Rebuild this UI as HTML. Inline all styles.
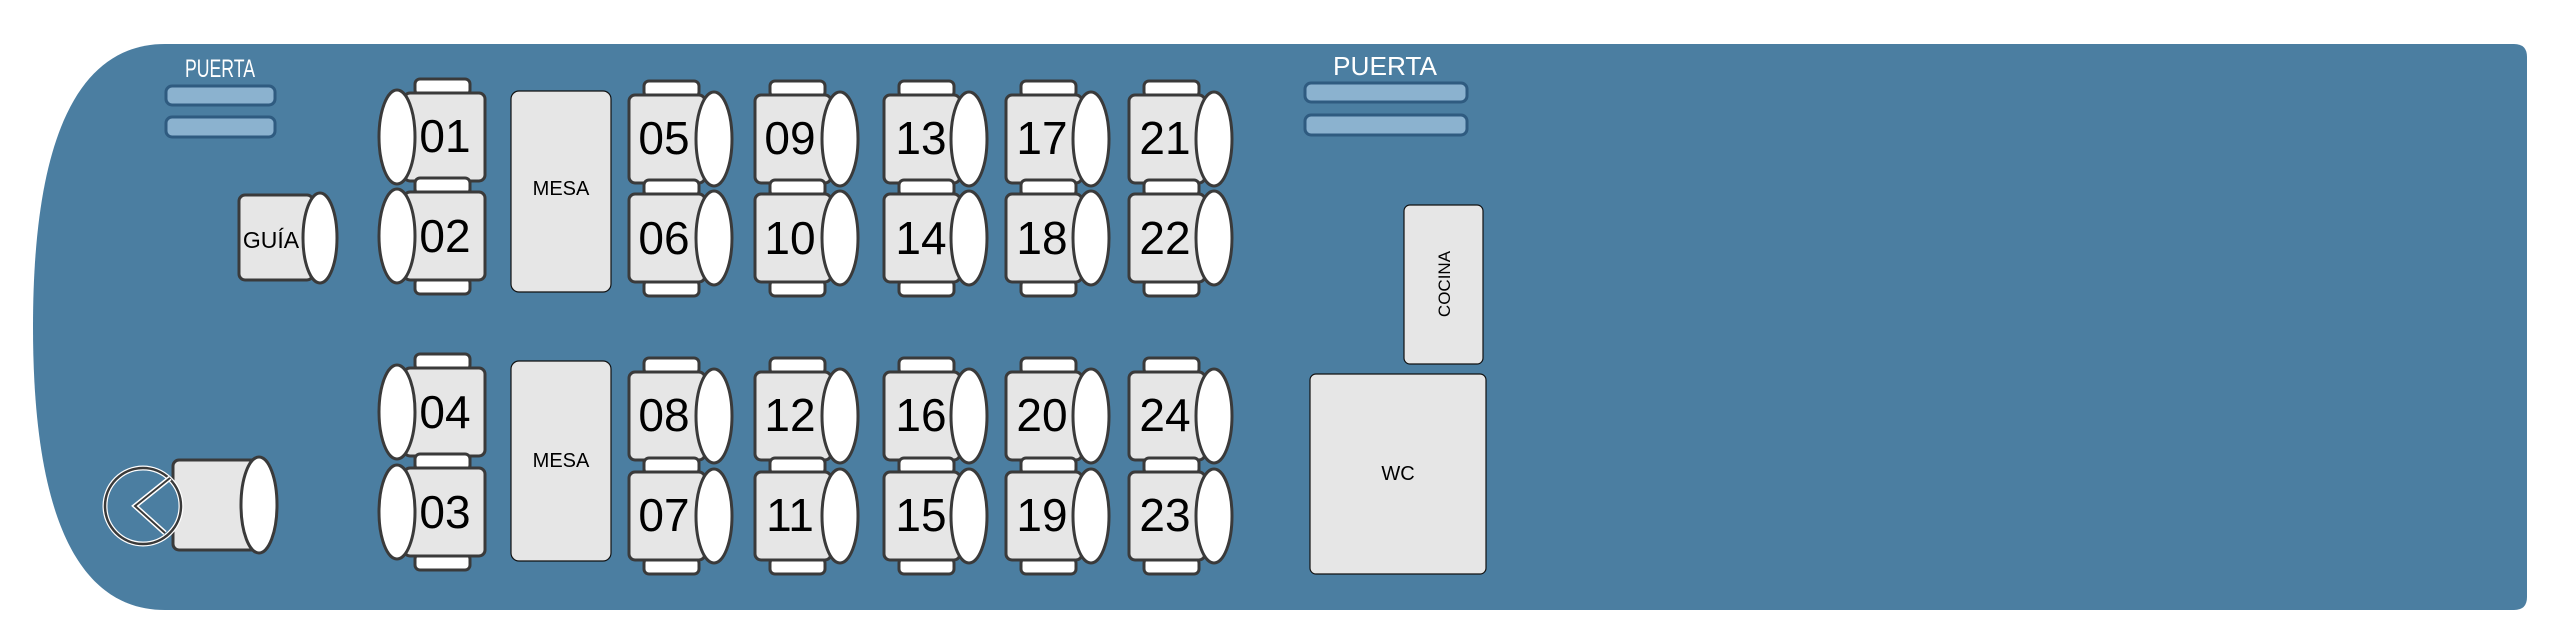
<!DOCTYPE html>
<html><head><meta charset="utf-8"><style>
html,body{margin:0;padding:0;background:#fff;}
svg{display:block;}
text{font-family:"Liberation Sans",sans-serif;}
</style></head><body>
<svg width="2560" height="641" viewBox="0 0 2560 641" xmlns="http://www.w3.org/2000/svg">
<defs>
<g id="sl">
 <rect x="11" y="-14" width="55" height="16" rx="5" fill="#fff" stroke="#3a3a3a" stroke-width="3"/>
 <rect x="11" y="86" width="55" height="16" rx="5" fill="#fff" stroke="#3a3a3a" stroke-width="3"/>
 <rect x="0" y="0" width="81" height="88" rx="6" fill="#e6e6e6" stroke="#3a3a3a" stroke-width="3"/>
 <ellipse cx="-7" cy="44" rx="18" ry="47" fill="#fff" stroke="#3a3a3a" stroke-width="3"/>
</g>
<g id="sr">
 <rect x="15" y="-14" width="55" height="16" rx="5" fill="#fff" stroke="#3a3a3a" stroke-width="3"/>
 <rect x="15" y="86" width="55" height="16" rx="5" fill="#fff" stroke="#3a3a3a" stroke-width="3"/>
 <rect x="0" y="0" width="76" height="88" rx="6" fill="#e6e6e6" stroke="#3a3a3a" stroke-width="3"/>
 <ellipse cx="85" cy="44" rx="18" ry="47" fill="#fff" stroke="#3a3a3a" stroke-width="3"/>
</g>
</defs>
<path d="M165 44 L2514 44 Q2527 44 2527 57 L2527 597 Q2527 610 2514 610 L165 610 C80 610 33 520 33 327 C33 134 80 44 165 44 Z" fill="#4b7ea1"/>

<!-- left door -->
<text x="220" y="77" font-size="25" fill="#fff" text-anchor="middle" textLength="70" lengthAdjust="spacingAndGlyphs">PUERTA</text>
<rect x="166" y="86" width="109" height="19" rx="6" fill="#8bb2cf" stroke="#2f5b80" stroke-width="3"/>
<rect x="166" y="117" width="109" height="20" rx="6" fill="#8bb2cf" stroke="#2f5b80" stroke-width="3"/>
<!-- right door -->
<text x="1385" y="75" font-size="26" fill="#fff" text-anchor="middle" textLength="104" lengthAdjust="spacingAndGlyphs">PUERTA</text>
<rect x="1305" y="83" width="162" height="19" rx="6" fill="#8bb2cf" stroke="#2f5b80" stroke-width="3"/>
<rect x="1305" y="115" width="162" height="20" rx="6" fill="#8bb2cf" stroke="#2f5b80" stroke-width="3"/>

<!-- guide -->
<rect x="239" y="195" width="74" height="85" rx="6" fill="#e6e6e6" stroke="#3a3a3a" stroke-width="3"/>
<ellipse cx="320" cy="238" rx="17" ry="45" fill="#fff" stroke="#3a3a3a" stroke-width="3"/>
<text x="271" y="248" font-size="23" text-anchor="middle">GUÍA</text>

<!-- driver -->
<rect x="173" y="460" width="86" height="90" rx="6" fill="#e6e6e6" stroke="#3a3a3a" stroke-width="3"/>
<ellipse cx="259" cy="505" rx="18" ry="48" fill="#fff" stroke="#3a3a3a" stroke-width="3"/>
<circle cx="143" cy="506" r="38" fill="#4b7ea1" stroke="#fff" stroke-width="5"/>
<circle cx="143" cy="506" r="38" fill="none" stroke="#3a3a3a" stroke-width="2.5"/>
<path d="M170 478 L135 506 L165 533" fill="none" stroke="#fff" stroke-width="5"/>
<path d="M170 478 L135 506 L165 533" fill="none" stroke="#3a3a3a" stroke-width="2"/>

<!-- tables -->
<rect x="511" y="91" width="100" height="201" rx="8" fill="#e6e6e6" stroke="#111" stroke-width="1.2"/>
<text x="561" y="195" font-size="20" text-anchor="middle">MESA</text>
<rect x="511" y="361" width="100" height="200" rx="8" fill="#e6e6e6" stroke="#111" stroke-width="1.2"/>
<text x="561" y="467" font-size="20" text-anchor="middle">MESA</text>

<!-- left-facing seats -->
<g font-size="46" text-anchor="middle">
<use href="#sl" x="404" y="93"/><text x="445" y="152">01</text>
<use href="#sl" x="404" y="192"/><text x="445" y="252">02</text>
<use href="#sl" x="404" y="368"/><text x="445" y="428">04</text>
<use href="#sl" x="404" y="468"/><text x="445" y="528">03</text>

<use href="#sr" x="629" y="95"/><text x="664" y="154">05</text>
<use href="#sr" x="629" y="194"/><text x="664" y="254">06</text>
<use href="#sr" x="629" y="372"/><text x="664" y="431">08</text>
<use href="#sr" x="629" y="472"/><text x="664" y="531">07</text>

<use href="#sr" x="755" y="95"/><text x="790" y="154">09</text>
<use href="#sr" x="755" y="194"/><text x="790" y="254">10</text>
<use href="#sr" x="755" y="372"/><text x="790" y="431">12</text>
<use href="#sr" x="755" y="472"/><text x="790" y="531">11</text>

<use href="#sr" x="884" y="95"/><text x="921" y="154">13</text>
<use href="#sr" x="884" y="194"/><text x="921" y="254">14</text>
<use href="#sr" x="884" y="372"/><text x="921" y="431">16</text>
<use href="#sr" x="884" y="472"/><text x="921" y="531">15</text>

<use href="#sr" x="1006" y="95"/><text x="1042" y="154">17</text>
<use href="#sr" x="1006" y="194"/><text x="1042" y="254">18</text>
<use href="#sr" x="1006" y="372"/><text x="1042" y="431">20</text>
<use href="#sr" x="1006" y="472"/><text x="1042" y="531">19</text>

<use href="#sr" x="1129" y="95"/><text x="1165" y="154">21</text>
<use href="#sr" x="1129" y="194"/><text x="1165" y="254">22</text>
<use href="#sr" x="1129" y="372"/><text x="1165" y="431">24</text>
<use href="#sr" x="1129" y="472"/><text x="1165" y="531">23</text>
</g>

<!-- kitchen & WC -->
<rect x="1404" y="205" width="79" height="159" rx="6" fill="#e6e6e6" stroke="#111" stroke-width="1.2"/>
<text x="0" y="0" font-size="17" text-anchor="middle" transform="translate(1450 284) rotate(-90)">COCINA</text>
<rect x="1310" y="374" width="176" height="200" rx="6" fill="#e6e6e6" stroke="#111" stroke-width="1.2"/>
<text x="1398" y="480" font-size="20" text-anchor="middle">WC</text>
</svg>
</body></html>
